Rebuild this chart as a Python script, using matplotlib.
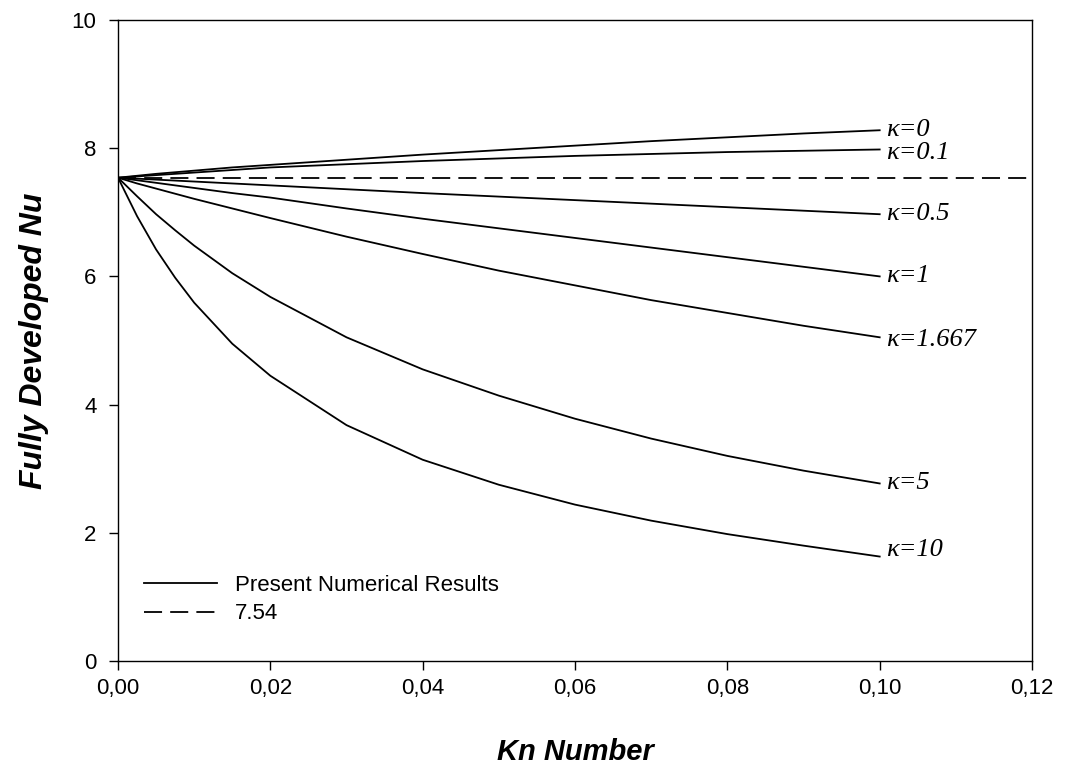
import numpy as np
import matplotlib
matplotlib.use("Agg")
import matplotlib.pyplot as plt
from matplotlib.ticker import FuncFormatter

plt.rcParams['font.family'] = ['Liberation Sans', 'DejaVu Sans']

kn = [0.0, 0.0025, 0.005, 0.0075, 0.01, 0.015, 0.02, 0.03, 0.04,
      0.05, 0.06, 0.07, 0.08, 0.09, 0.10]

# fully developed Nu for each kappa
nu_k0 = [7.54, 7.57, 7.60, 7.625, 7.65, 7.70, 7.74, 7.82, 7.90,
         7.97, 8.04, 8.11, 8.17, 8.23, 8.28]
nu_k01 = [7.54, 7.56, 7.58, 7.60, 7.62, 7.66, 7.70, 7.75, 7.80,
          7.84, 7.88, 7.91, 7.94, 7.96, 7.98]
nu_k05 = [7.54, 7.525, 7.51, 7.495, 7.48, 7.45, 7.42, 7.36, 7.30,
          7.245, 7.19, 7.135, 7.08, 7.025, 6.97]
nu_k1 = [7.54, 7.50, 7.46, 7.42, 7.38, 7.30, 7.23, 7.06, 6.90,
         6.75, 6.60, 6.45, 6.30, 6.15, 6.00]
nu_k1667 = [7.54, 7.45, 7.37, 7.29, 7.21, 7.06, 6.91, 6.62, 6.35,
            6.09, 5.86, 5.63, 5.43, 5.23, 5.05]
nu_k5 = [7.54, 7.25, 6.97, 6.72, 6.48, 6.05, 5.68, 5.05, 4.55,
         4.14, 3.78, 3.47, 3.20, 2.97, 2.77]
nu_k10 = [7.54, 6.94, 6.42, 5.98, 5.59, 4.95, 4.45, 3.68, 3.14,
          2.75, 2.44, 2.19, 1.98, 1.80, 1.63]

curves = [nu_k0, nu_k01, nu_k05, nu_k1, nu_k1667, nu_k5, nu_k10]
kappa_labels = ["κ=0", "κ=0.1", "κ=0.5", "κ=1", "κ=1.667", "κ=5", "κ=10"]
label_shift = [0.0, -0.06, 0.0, 0.0, -0.04, 0.0, 0.1]

nu_ref = 7.54

fig = plt.figure(figsize=(10.70, 7.69), dpi=100)
ax = fig.add_axes([0.1103, 0.1404, 0.8542, 0.8336])

for i, nu in enumerate(curves):
    ax.plot(kn, nu, color="black", lw=1.3,
            label="Present Numerical Results" if i == 0 else None)
    ax.text(kn[-1] + 0.0008, nu[-1] + label_shift[i], kappa_labels[i],
            family="Liberation Serif", style="italic", fontsize=19,
            ha="left", va="center")

ax.plot([0, 0.12], [nu_ref, nu_ref], color="black", lw=1.3,
        dashes=(10, 4.5), label="7.54")

ax.set_xlim(0, 0.12)
ax.set_ylim(0, 10)
ax.set_xticks(np.arange(0, 0.1201, 0.02))
ax.set_yticks(np.arange(0, 10.1, 2))
ax.xaxis.set_major_formatter(FuncFormatter(lambda v, p: f"{v:.2f}".replace(".", ",")))
ax.yaxis.set_major_formatter(FuncFormatter(lambda v, p: f"{v:.0f}"))
ax.tick_params(direction="out", length=6.5, width=1, labelsize=16)
ax.tick_params(axis="y", pad=9)
ax.tick_params(axis="x", pad=6)
for s in ax.spines.values():
    s.set_linewidth(1.0)

ax.set_xlabel("Kn Number", fontsize=21, fontweight="bold", style="italic", labelpad=28)
ax.set_ylabel("Fully Developed Nu", fontsize=23, fontweight="bold", style="italic", labelpad=16)

ax.legend(loc="lower left", bbox_to_anchor=(0.016, 0.04), frameon=False,
          fontsize=16, handlelength=3.3, handletextpad=0.8, labelspacing=0.35,
          borderpad=0)

fig.savefig("out.png", dpi=100)
